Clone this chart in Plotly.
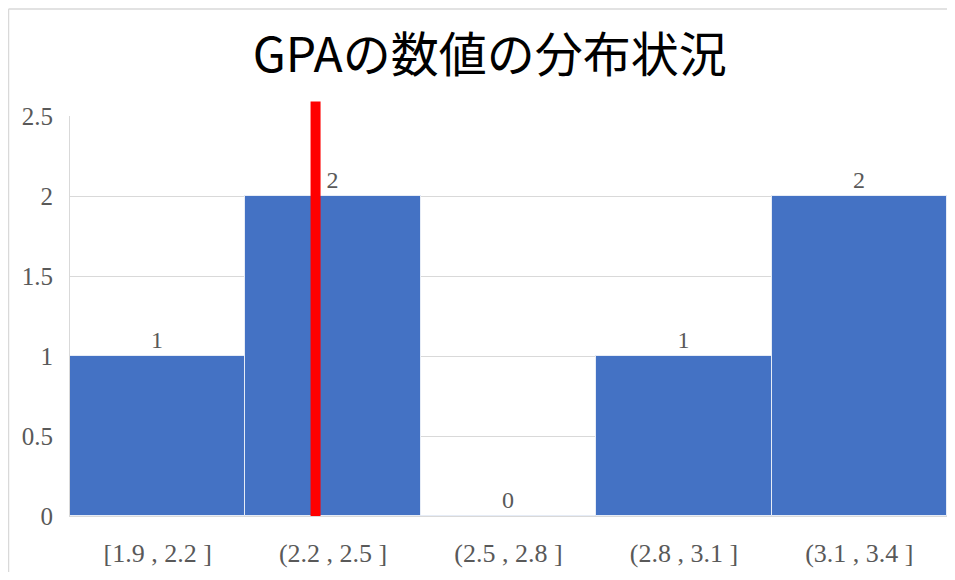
import plotly.graph_objects as go

categories = ["[1.9 , 2.2 ]", "(2.2 , 2.5 ]", "(2.5 , 2.8 ]", "(2.8 , 3.1 ]", "(3.1 , 3.4 ]"]
counts = [1, 2, 0, 1, 2]
marker_x = 0.9      # position of red reference line (category-axis units)
marker_top = 2.59
y_max = 2.5

W, H = 939, 564
L, R, T, B = 62, 0, 108, 56
PW, PH = W - L - R, H - T - B

fig = go.Figure()
fig.add_trace(go.Bar(
    x=categories, y=counts,
    marker=dict(color="#4472C4", line=dict(color="#E6ECF6", width=1)),
    width=1.0,
    text=[str(v) for v in counts], textposition="outside",
    textfont=dict(family="Liberation Serif", size=24, color="#595959"),
    cliponaxis=False,
))

fig.add_shape(type="line", xref="x", yref="paper", x0=marker_x, x1=marker_x,
              y0=0, y1=marker_top / y_max,
              line=dict(color="#FF0000", width=10), layer="above")
# chart-area border (top and left)
bx = -(L - 0.5) / PW
by = 1 + (T - 1) / PH
fig.add_shape(type="line", xref="paper", yref="paper", x0=bx, x1=1.0, y0=by, y1=by,
              line=dict(color="#D9D9D9", width=1.5))
fig.add_shape(type="line", xref="paper", yref="paper", x0=bx, x1=bx, y0=-B / PH, y1=by,
              line=dict(color="#D9D9D9", width=1.5))

fig.update_layout(
    width=W, height=H,
    margin=dict(l=L, r=R, t=T, b=B),
    paper_bgcolor="white", plot_bgcolor="white",
    showlegend=False,
    bargap=0,
    title=dict(text="GPAの数値の分布状況", x=0.513, xanchor="center", y=1 - 47 / H, yanchor="middle",
               font=dict(family="Noto Sans CJK JP", size=48, color="#000000")),
    xaxis=dict(showgrid=False, showline=True, linecolor="#D9D9D9", ticks="",
               tickfont=dict(family="Liberation Serif", size=26, color="#595959"),
               ticklabelstandoff=14, range=[-0.5, 4.5], automargin=False),
    yaxis=dict(range=[0, y_max], dtick=0.5, showgrid=True, gridcolor="#D9D9D9", gridwidth=1,
               showline=True, linecolor="#D9D9D9", zeroline=True, zerolinecolor="#D9D9D9",
               ticks="", tickfont=dict(family="Liberation Serif", size=25, color="#595959"),
               ticklabelstandoff=11, automargin=False),
)

fig.write_html("out.html")
